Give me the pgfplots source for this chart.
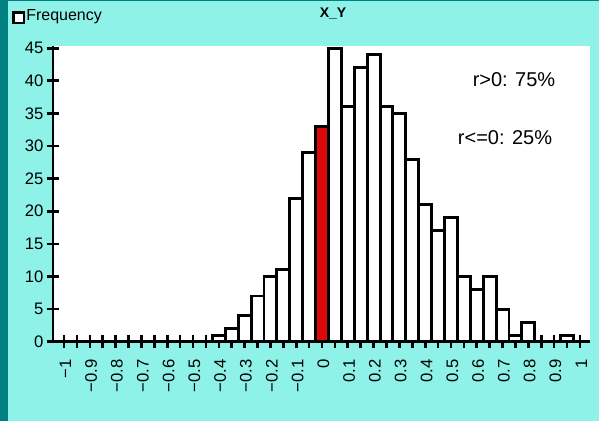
\documentclass[border=0pt]{standalone}
\usepackage{pgfplots}
\pgfplotsset{compat=1.18}
\usepackage{fontspec}
\setmainfont{Liberation Sans}
\definecolor{bg}{RGB}{142,242,232}
\definecolor{teal0}{RGB}{0,128,128}
\definecolor{barred}{RGB}{221,8,8}
\begin{document}
\begin{tikzpicture}
\fill[bg] (0,0) rectangle (449.25pt,315.75pt);
\fill[teal0] (0,0) rectangle (6pt,315.75pt);
\fill[teal0] (0,314.75pt) rectangle (449.25pt,315.75pt);
\begin{axis}[
  at={(39.75pt,59.5pt)}, anchor=south west,
  scale only axis, width=402.75pt, height=221.8pt,
  xmin=-1.043, xmax=1.039, ymin=0, ymax=45.35,
  axis background/.style={fill=white},
  axis x line*=bottom, axis y line*=left,
  axis line style={line width=2.2pt, -},
  xtick={-1,-0.9,...,1.01},
  xticklabels={−1,−0.9,−0.8,−0.7,−0.6,−0.5,−0.4,−0.3,−0.2,−0.1,0,0.1,0.2,0.3,0.4,0.5,0.6,0.7,0.8,0.9,1},
  minor xtick={-0.95,-0.85,...,0.96},
  ytick={0,5,...,45},
  tick align=center,
  major tick length=9.5pt, minor tick length=9.5pt,
  every tick/.style={black, line width=2pt},
  xticklabel style={rotate=90, anchor=east, font=\fontsize{12.5}{14}\selectfont, xshift=-5pt, yshift=-1pt},
  yticklabel style={font=\fontsize{12.5}{14}\selectfont, xshift=1pt},
  /pgf/number format/assume math mode=true,
  clip=false,
]
\addplot[ybar, bar width=0.05, bar shift=0pt, fill=white, draw=black, line width=2.2pt] coordinates {
(-0.4,1) (-0.35,2) (-0.3,4) (-0.25,7) (-0.2,10) (-0.15,11) (-0.1,22) (-0.05,29)
(0.05,45) (0.1,36) (0.15,42) (0.2,44) (0.25,36) (0.3,35) (0.35,28) (0.4,21)
(0.45,17) (0.5,19) (0.55,10) (0.6,8) (0.65,10) (0.7,5) (0.75,1) (0.8,3) (0.95,1)
};
\addplot[ybar, bar width=0.05, bar shift=0pt, fill=barred, draw=black, line width=2.2pt] coordinates {(0,33)};
\end{axis}
\node[font=\fontsize{10.5}{12}\selectfont\bfseries] at (249.75pt,305.25pt) {X\_Y};
\draw[black, line width=2.2pt, fill=white] (10pt,298.5pt) rectangle (18pt,306.5pt);
\node[anchor=west, inner sep=0pt, font=\fontsize{12}{14}\selectfont] at (19.5pt,303pt) {Frequency};
\node[font=\fontsize{15}{17}\selectfont] at (385.5pt,255.75pt) {r>0: 75\%};
\node[font=\fontsize{15}{17}\selectfont] at (378.75pt,212.25pt) {r<=0: 25\%};
\end{tikzpicture}
\end{document}
